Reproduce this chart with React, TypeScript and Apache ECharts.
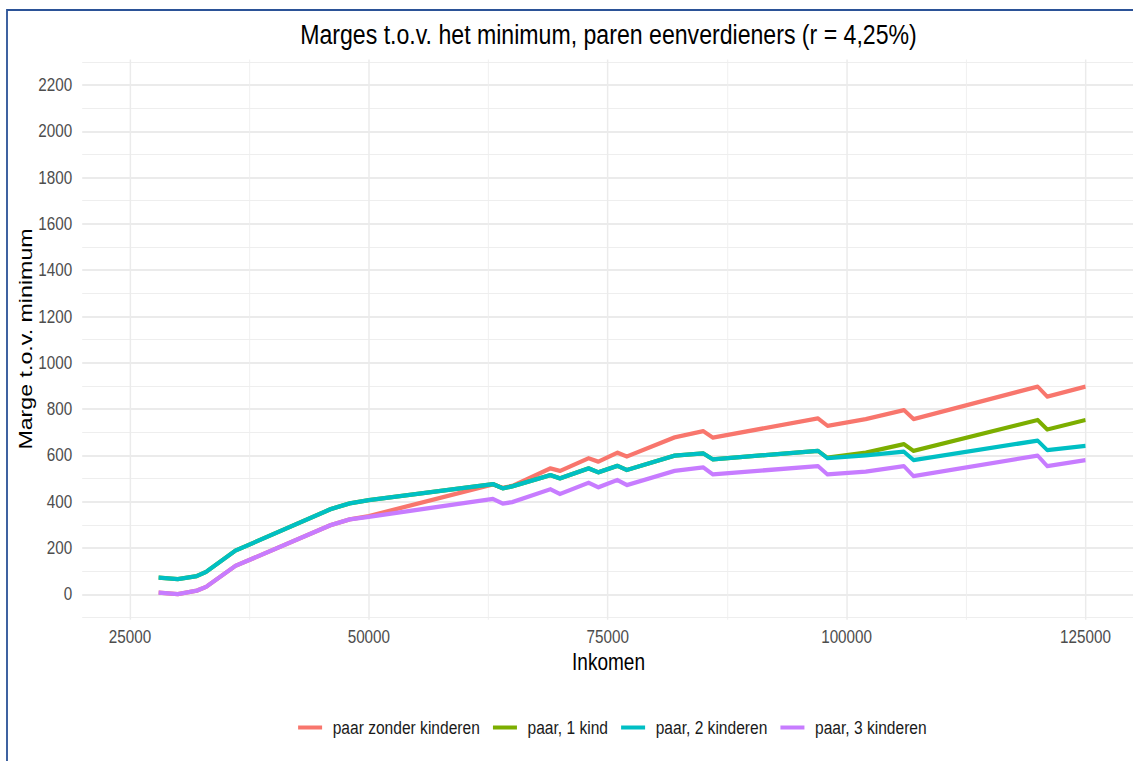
import React, { useEffect, useRef } from "react";
import * as echarts from "echarts";

const incomes = [28000, 30000, 32000, 33000, 36000, 46000, 48000, 50000, 63000, 64000, 65000, 69000, 70000, 73000, 74000, 76000, 77000, 82000, 85000, 86000, 97000, 98000, 102000, 106000, 107000, 120000, 121000, 125000];

const zonderKinderen = [7, 1, 16, 33, 122, 299, 324, 338, 475, 460, 468, 544, 533, 588, 573, 612, 595, 678, 705, 677, 760, 728, 757, 796, 757, 897, 854, 897];
const eenKind = [72, 66, 79, 98, 188, 368, 393, 407, 476, 458, 466, 515, 501, 544, 527, 555, 537, 599, 609, 583, 620, 590, 612, 649, 620, 753, 712, 753];
const tweeKinderen = [72, 66, 79, 98, 188, 368, 393, 407, 476, 458, 466, 515, 501, 544, 527, 555, 537, 599, 609, 583, 620, 588, 600, 616, 580, 664, 623, 641];
const drieKinderen = [7, 1, 16, 33, 122, 299, 324, 335, 412, 392, 398, 454, 433, 482, 462, 494, 472, 533, 548, 518, 554, 518, 530, 554, 511, 599, 554, 580];

const seriesNames = ["paar zonder kinderen", "paar, 1 kind", "paar, 2 kinderen", "paar, 3 kinderen"];
const seriesValues = [zonderKinderen, eenKind, tweeKinderen, drieKinderen];
const seriesColors = ["#F8766D", "#7CAE00", "#00BFC4", "#C77CFF"];

const xMajor = [25000, 50000, 75000, 100000, 125000];
const xMinor = [37500, 62500, 87500, 112500];
const yMajor = [0, 200, 400, 600, 800, 1000, 1200, 1400, 1600, 1800, 2000, 2200];
const yMinor = [-100, 100, 300, 500, 700, 900, 1100, 1300, 1500, 1700, 1900, 2100, 2300];

const titleText = "Marges t.o.v. het minimum, paren eenverdieners (r = 4,25%)";
const xTitle = "Inkomen";
const yTitle = "Marge t.o.v. minimum";

const SANS = "'Liberation Sans', Arial, sans-serif";
// the reference picture is horizontally condensed; reproduce by squeezing the whole chart
const S = 0.82;
const PAGE_W = 1133;
const PAGE_H = 761;
const W = PAGE_W / S;

export default function App() {
  const ref = useRef<HTMLDivElement>(null);
  useEffect(() => {
    document.body.style.margin = "0";
    if (!ref.current) return;
    const chart = echarts.init(ref.current, undefined, { renderer: "svg" });
    const gridLine = { color: "#EBEBEB", width: 1.8 };
    const gridLineMinor = { color: "#EEEEEE", width: 1.1 };
    const xRange = { min: 20000, max: 130000 };
    const yRange = { min: -110, max: 2310 };
    const px = (x: number) => x / S;
    chart.setOption({
      animation: false,
      backgroundColor: "#ffffff",
      grid: { left: px(82.2), right: 0, top: 59.5, bottom: 141.2, containLabel: false },
      xAxis: [
        {
          type: "value", ...xRange,
          axisLine: { show: false },
          axisTick: { show: false, customValues: xMajor },
          axisLabel: { customValues: xMajor, formatter: (v: number) => String(v), color: "#4D4D4D", fontSize: 18.6, fontFamily: SANS, margin: 8 },
          splitLine: { show: true, lineStyle: gridLine },
        },
        {
          type: "value", ...xRange, position: "bottom",
          axisLine: { show: false },
          axisTick: { show: false, customValues: xMinor },
          axisLabel: { show: false },
          splitLine: { show: true, lineStyle: gridLineMinor },
        },
      ],
      yAxis: [
        {
          type: "value", ...yRange,
          axisLine: { show: false },
          axisTick: { show: false, customValues: yMajor },
          axisLabel: { customValues: yMajor, formatter: (v: number) => String(v), color: "#4D4D4D", fontSize: 18.6, fontFamily: SANS, margin: px(10) },
          splitLine: { show: true, lineStyle: gridLine },
        },
        {
          type: "value", ...yRange, position: "left",
          axisLine: { show: false },
          axisTick: { show: false, customValues: yMinor },
          axisLabel: { show: false },
          splitLine: { show: true, lineStyle: gridLineMinor },
        },
      ],
      legend: {
        left: px(294), top: 713, icon: "rect", itemWidth: px(24), itemHeight: 4, itemGap: px(13),
        data: seriesNames,
        textStyle: { fontFamily: SANS, fontSize: 19, color: "#1A1A1A", padding: [0, 0, 0, px(6.5)] },
      },
      series: seriesNames.map((name, i) => ({
        name, type: "line", xAxisIndex: 0, yAxisIndex: 0, symbol: "none",
        color: seriesColors[i],
        lineStyle: { width: 4.3, color: seriesColors[i], join: "round" },
        data: incomes.map((x, k) => [x, seriesValues[i][k]]),
        z: 2 + i,
      })),
      graphic: [
        { type: "rect", shape: { x: px(7), y: 10, width: 1600, height: 800 }, style: { fill: "none", stroke: "#2B5297", lineWidth: 2.2 }, silent: true },
        { type: "text", x: px(608.5), y: 34, style: { text: titleText, font: `28.2px ${SANS}`, fill: "#000", align: "center", verticalAlign: "middle" } },
        { type: "text", x: px(608.5), y: 662, style: { text: xTitle, font: `23.2px ${SANS}`, fill: "#000", align: "center", verticalAlign: "middle" } },
        { type: "text", x: px(25), y: 339, rotation: Math.PI / 2, style: { text: yTitle, font: `23.2px ${SANS}`, fill: "#000", align: "center", verticalAlign: "middle" } },
      ],
    });
    return () => chart.dispose();
  }, []);
  return (
    <div style={{ width: PAGE_W, height: PAGE_H, overflow: "hidden", position: "relative" }}>
      <div ref={ref} style={{ width: W, height: PAGE_H, transform: `scaleX(${S})`, transformOrigin: "0 0" }} />
    </div>
  );
}
